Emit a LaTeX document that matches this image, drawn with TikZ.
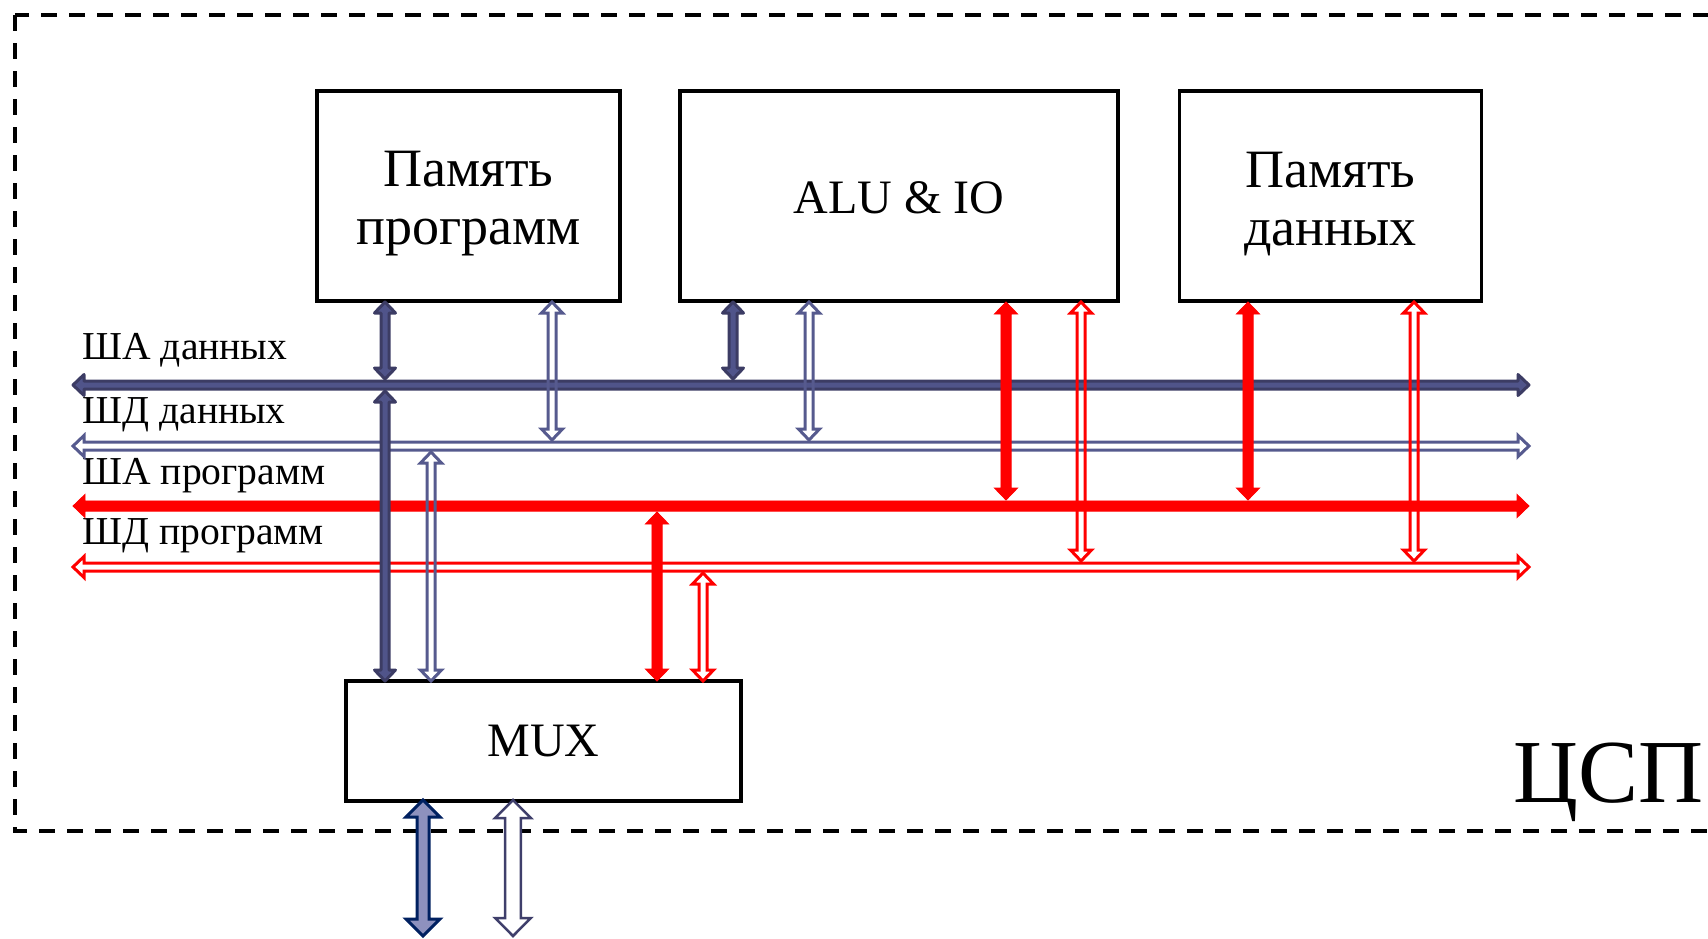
\documentclass[tikz,border=0pt]{standalone}
\usepackage{fontspec}
\setmainfont{Liberation Serif}
\usetikzlibrary{calc}
\definecolor{dkedge}{HTML}{3C3C64}
\definecolor{dkfill}{HTML}{50548A}
\definecolor{obl}{HTML}{565A8E}
\definecolor{navy}{HTML}{002060}
\definecolor{lav}{HTML}{8E91BE}
\definecolor{obot}{HTML}{3F3F6B}
\newcommand\varrow[6]{\draw[#1] let \p1=(#2), \p2=(#3) in
 (\x1,\y1) -- (\x1+#5,\y1-#6) -- (\x1+#4,\y1-#6) -- (\x1+#4,\y2+#6) -- (\x1+#5,\y2+#6) -- (\x1,\y2)
 -- (\x1-#5,\y2+#6) -- (\x1-#4,\y2+#6) -- (\x1-#4,\y1-#6) -- (\x1-#5,\y1-#6) -- cycle;}
\newcommand\harrow[6]{\draw[#1] let \p1=(#2), \p2=(#3) in
 (\x1,\y1) -- (\x1+#6,\y1+#5) -- (\x1+#6,\y1+#4) -- (\x2-#6,\y1+#4) -- (\x2-#6,\y1+#5) -- (\x2,\y1)
 -- (\x2-#6,\y1-#5) -- (\x2-#6,\y1-#4) -- (\x1+#6,\y1-#4) -- (\x1+#6,\y1-#5) -- cycle;}
\tikzset{
  blk/.style={draw=black, line width=1.75pt, fill=white, inner sep=0pt},
  blktext/.style={align=center, inner sep=0pt, font=\fontsize{27}{29}\selectfont},
  buslabel/.style={anchor=base west, inner sep=0pt, font=\fontsize{19.8}{22}\selectfont},
  darkarr/.style={draw=dkedge, fill=dkfill, line width=1.5pt, line join=round},
  bluearr/.style={draw=obl, line width=1.5pt, line join=miter},
  redarr/.style={draw=red, fill=red, line width=0.4pt, line join=miter},
  redout/.style={draw=red, line width=1.5pt, line join=miter},
  botfill/.style={draw=navy, fill=lav, line width=1.5pt, line join=miter},
  botout/.style={draw=obot, fill=white, line width=1.25pt, line join=miter},
}
\begin{document}
\begin{tikzpicture}[x=0.5pt,y=-0.5pt]
\useasboundingbox (0,0) rectangle (1708,938);
% outer dashed frame
\draw[line width=2pt, dash pattern=on 8pt off 6pt] (15,15) rectangle (1740,831);
\node[anchor=base west, inner sep=0pt, font=\fontsize{45}{54}\selectfont] (dsp) at (1513,802) {ЦСП};
% blocks
\node[blk, minimum width=151.5pt, minimum height=105pt] (pp) at (468.5,196) {};
\node[blk, minimum width=219pt, minimum height=105pt] (alu) at (899,196) {};
\node[blk, minimum width=151pt, minimum height=105pt] (pd) at (1330.5,196) {};
\node[blk, minimum width=197.5pt, minimum height=60pt] (mux) at (543.5,741) {};
\node[blktext] (ppt) at ([yshift=-4pt]pp.center) {Память\\программ};
\node[blktext, font=\fontsize{24}{29}\selectfont] (alut) at ([yshift=-1pt]alu.center) {ALU \& IO};
\node[blktext] (pdt) at ([yshift=-4pt]pd.center) {Память\\данных};
\node[blktext, font=\fontsize{24}{29}\selectfont] (muxt) at (mux.center) {MUX};
% bus labels
\node[buslabel] (l1) at (82,359) {ША данных};
\node[buslabel] (l2) at (82,423) {ШД данных};
\node[buslabel] (l3) at (82,484) {ША программ};
\node[buslabel] (l4) at (82,544) {ШД программ};
% bus end points
\coordinate (b1l) at (73,385);  \coordinate (b1r) at (1529,385);
\coordinate (b2l) at (73,446);  \coordinate (b2r) at (1529,446);
\coordinate (b3l) at (73,506);  \coordinate (b3r) at (1529,506);
\coordinate (b4l) at (73,567);  \coordinate (b4r) at (1529,567);
% buses
\harrow{darkarr}{b1l}{b1r}{2pt}{5.25pt}{5.5pt}
\harrow{bluearr}{b2l}{b2r}{2pt}{5.25pt}{5.5pt}
\harrow{redarr}{b3l}{b3r}{2.55pt}{5.8pt}{6pt}
\harrow{redout}{b4l}{b4r}{2pt}{5.25pt}{5.5pt}
% vertical connector end points
\coordinate (v1t) at (385,302);  \coordinate (v1b) at (385,379);
\coordinate (v2t) at (385,391);  \coordinate (v2b) at (385,681);
\coordinate (v3t) at (552,302);  \coordinate (v3b) at (552,440);
\coordinate (v4t) at (431,452);  \coordinate (v4b) at (431,681);
\coordinate (v5t) at (733,302);  \coordinate (v5b) at (733,379);
\coordinate (v6t) at (809,302);  \coordinate (v6b) at (809,440);
\coordinate (v7t) at (1006,302); \coordinate (v7b) at (1006,500);
\coordinate (v8t) at (1081,302); \coordinate (v8b) at (1081,561);
\coordinate (v9t) at (1248,302); \coordinate (v9b) at (1248,500);
\coordinate (v10t) at (1414,302); \coordinate (v10b) at (1414,561);
\coordinate (v11t) at (657,512); \coordinate (v11b) at (657,681);
\coordinate (v12t) at (703,573); \coordinate (v12b) at (703,681);
\coordinate (v13t) at (423,800); \coordinate (v13b) at (423,936);
\coordinate (v14t) at (513,800); \coordinate (v14b) at (513,936);
% vertical connectors
\varrow{darkarr}{v1t}{v1b}{2pt}{5.25pt}{5.5pt}
\varrow{darkarr}{v2t}{v2b}{2pt}{5.25pt}{5.5pt}
\varrow{bluearr}{v3t}{v3b}{2pt}{5.25pt}{5.5pt}
\varrow{bluearr}{v4t}{v4b}{2pt}{5.25pt}{5.5pt}
\varrow{darkarr}{v5t}{v5b}{2pt}{5.25pt}{5.5pt}
\varrow{bluearr}{v6t}{v6b}{2pt}{5.25pt}{5.5pt}
\varrow{redarr}{v7t}{v7b}{2.55pt}{5.8pt}{6pt}
\varrow{redout}{v8t}{v8b}{2pt}{5.25pt}{5.5pt}
\varrow{redarr}{v9t}{v9b}{2.55pt}{5.8pt}{6pt}
\varrow{redout}{v10t}{v10b}{2pt}{5.25pt}{5.5pt}
\varrow{redarr}{v11t}{v11b}{2.55pt}{5.8pt}{6pt}
\varrow{redout}{v12t}{v12b}{2pt}{5.25pt}{5.5pt}
\varrow{botfill}{v13t}{v13b}{3pt}{8.5pt}{8.5pt}
\varrow{botout}{v14t}{v14b}{3.9pt}{8.9pt}{9pt}
\end{tikzpicture}
\end{document}
